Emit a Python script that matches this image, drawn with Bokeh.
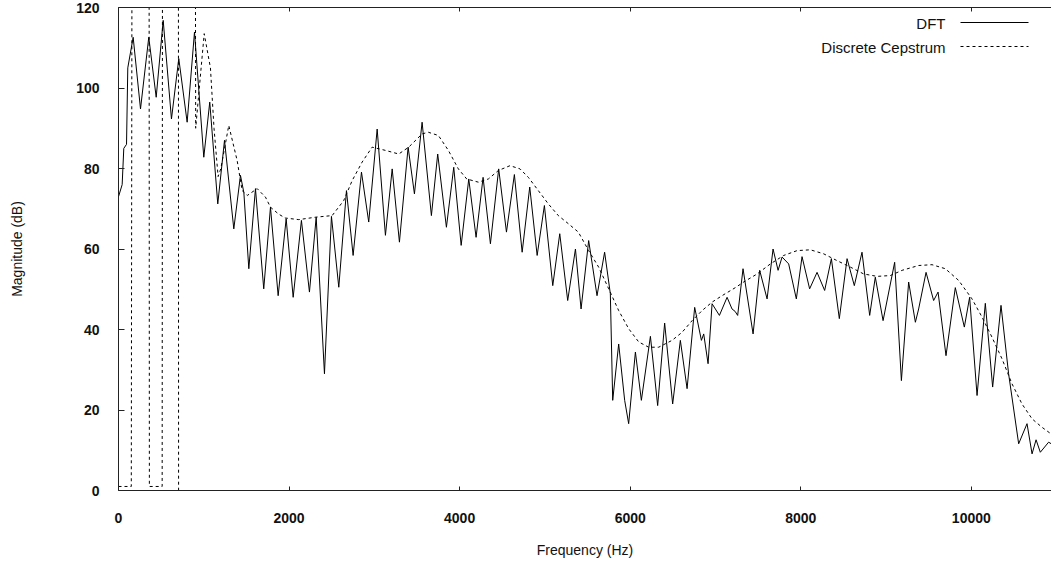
from bokeh.plotting import figure
from bokeh.models import (Range1d, LinearAxis, SingleIntervalTicker, Label, Arrow)
from bokeh.embed import file_html
from bokeh.resources import INLINE

# ---- data ----
dft_freq = [0, 43, 62, 94, 109, 172, 258, 355, 442, 524, 621, 707, 805, 891, 1000, 1070,
            1164, 1243, 1352, 1430, 1470, 1528, 1606, 1703, 1782, 1872, 1966, 2048, 2145,
            2239, 2318, 2415, 2497, 2583, 2673, 2751, 2849, 2934, 3033, 3130, 3209, 3294,
            3396, 3470, 3560, 3669, 3743, 3845, 3931, 4018, 4107, 4193, 4275, 4361, 4458,
            4549, 4642, 4733, 4822, 4909, 4994, 5092, 5174, 5267, 5358, 5424, 5513, 5611,
            5700, 5767, 5795, 5865, 5935, 5982, 6061, 6131, 6237, 6322, 6404, 6498, 6588,
            6667, 6756, 6835, 6862, 6913, 6960, 7046, 7136, 7194, 7230, 7260, 7323, 7441,
            7518, 7605, 7675, 7734, 7781, 7858, 7948, 8015, 8104, 8191, 8280, 8359, 8452,
            8543, 8628, 8718, 8808, 8874, 8965, 9101, 9180, 9265, 9344, 9382, 9469, 9558,
            9610, 9703, 9812, 9918, 9980, 10067, 10164, 10250, 10348, 10437, 10555, 10653,
            10712, 10759, 10809, 10906, 10938]
dft_db = [73, 76, 85, 86, 105, 112.6, 94.8, 112.6, 97.7, 116.8, 92.3, 107.3, 91.5, 113.9,
          82.8, 96.5, 71.2, 87.0, 65.0, 78.3, 74, 55.1, 75.0, 50.1, 70.4, 48.4, 67.5, 48.0,
          67.1, 49.3, 67.9, 29.0, 68.1, 50.5, 74.5, 58.4, 79.1, 66.7, 89.8, 63.4, 79.9,
          61.7, 85.3, 73.7, 91.5, 68.3, 83.6, 65.4, 80.3, 60.9, 77.4, 62.9, 77.8, 61.3,
          79.9, 64.2, 78.5, 59.2, 75.4, 58.4, 70.8, 50.9, 63.8, 47.2, 60.0, 45.1, 62.1,
          48.4, 59.2, 48.9, 22.4, 36.4, 22.4, 16.6, 34.4, 22.4, 38.3, 21.1, 41.6, 21.5,
          37.3, 25.3, 45.5, 37.3, 38.9, 31.5, 46.4, 43.5, 48.0, 45.1, 44.5, 43.5, 55.1,
          38.9, 54.7, 47.6, 60.0, 54.7, 58.0, 56.3, 47.6, 58.1, 50.1, 54.2, 49.7, 57.6,
          42.7, 57.6, 50.9, 59.2, 43.5, 53.0, 42.2, 56.7, 27.3, 51.8, 41.8, 45.1, 54.2,
          47.2, 49.3, 33.5, 50.4, 40.6, 48.0, 23.6, 46.5, 25.7, 46.0, 29.0, 11.6, 16.6,
          9.1, 12.6, 9.5, 12.0, 11.6]

# the cepstrum swings far outside the 0-120 window below ~900 Hz; NaN marks the
# point where the off-scale excursion below the axis returns off-scale above it
nan = float("nan")
cep_freq = [0, 150, 168, 355, 362, 512, 520, 700, 706, nan, 712, 888, 905, 1005, 1078, 1120,
            1168, 1200, 1293, 1391, 1450, 1510, 1626, 1723, 1782, 1876, 1954, 2114, 2309,
            2505, 2640, 2740, 2857, 2974, 3130, 3286, 3403, 3560, 3634, 3751, 3868, 3985,
            4083, 4220, 4337, 4454, 4591, 4708, 4806, 4923, 5040, 5157, 5274, 5392, 5513,
            5630, 5748, 5865, 5982, 6100, 6217, 6334, 6491, 6608, 6726, 6843, 6960, 7077,
            7233, 7331, 7488, 7644, 7800, 7957, 8113, 8269, 8426, 8582, 8738, 8894, 9050,
            9188, 9382, 9539, 9695, 9851, 10008, 10125, 10242, 10360, 10477, 10594, 10712,
            10829, 10926, 10938]
cep_db = [1, 1, 300, 300, 1, 1, 300, 300, -100, nan, 300, 300, 90, 113.5, 105, 90, 78, 80,
          90.7, 82, 74.5, 73.3, 75, 72.9, 70.4, 68.7, 67.7, 67.3, 67.9, 68.3, 72, 77, 81.6,
          85.3, 84.5, 83.6, 85.3, 88.6, 89, 88.2, 84.5, 79.9, 77.4, 76.6, 77.4, 79.5, 80.7,
          79.9, 77.8, 74.5, 71.2, 68.3, 66.3, 64.2, 59.6, 55.5, 50.1, 44.7, 40.2, 36.9,
          35.6, 35.6, 37.3, 39.3, 42.2, 44.7, 46.8, 48.4, 50.4, 51.8, 53.8, 56.3, 58.4,
          59.6, 59.8, 58.8, 57.1, 55.5, 53.8, 53.2, 53.4, 54.7, 55.9, 56.1, 55.1, 52.2,
          47.6, 43.1, 38.1, 32.7, 26.5, 21.5, 17.8, 15.7, 14.2, 14.1]

x_start, x_end = 0, 10940
y_start, y_end = 0, 120
x_tick_step = 2000
y_tick_step = 20
series_names = ["DFT", "Discrete Cepstrum"]
x_label = "Frequency (Hz)"
y_label = "Magnitude (dB)"

FONT = "Liberation Sans"
INK = "#111111"

p = figure(width=1051, height=565, output_backend="svg", toolbar_location=None,
           x_range=Range1d(x_start, x_end), y_range=Range1d(y_start, y_end),
           x_axis_location=None, y_axis_location=None,
           min_border_left=118, min_border_right=0, min_border_top=7, min_border_bottom=75)
p.outline_line_color = None
p.xgrid.visible = False
p.ygrid.visible = False
p.background_fill_color = "white"
p.border_fill_color = "white"

def style(ax, tick_in):
    ax.axis_line_color = "#222222"
    ax.axis_line_width = 1
    ax.major_tick_line_color = "#222222"
    ax.major_tick_in = tick_in
    ax.major_tick_out = 0
    ax.minor_tick_line_color = None
    ax.major_label_text_font = FONT
    ax.major_label_text_font_size = "14px"
    ax.major_label_text_font_style = "bold"
    ax.major_label_text_color = INK
    ax.axis_label_text_font = FONT
    ax.axis_label_text_font_size = "14px"
    ax.axis_label_text_font_style = "normal"
    ax.axis_label_text_color = INK

xb = LinearAxis(ticker=SingleIntervalTicker(interval=x_tick_step), axis_label=x_label)
style(xb, 4)
xb.major_label_standoff = 18
xb.axis_label_standoff = 16
p.add_layout(xb, "below")

# top border with mirrored ticks, no labels
xt = LinearAxis(ticker=SingleIntervalTicker(interval=x_tick_step))
style(xt, 4)
xt.major_label_text_font_size = "0px"
xt.major_label_text_color = None
xt.major_label_standoff = 0
p.add_layout(xt, "above")

yl = LinearAxis(ticker=SingleIntervalTicker(interval=y_tick_step), axis_label=y_label)
style(yl, 6)
yl.major_label_standoff = 15
yl.axis_label_standoff = 48
p.add_layout(yl, "left")

p.line(dft_freq, dft_db, line_color="black", line_width=1)
p.line(cep_freq, cep_db, line_color="black", line_width=1, line_dash="3 3")

# gnuplot-style key: text on the left, sample line on the right (screen units)
for i, (name, dash) in enumerate(zip(series_names, ["solid", "3 3"])):
    ys = 468 - i * 24
    p.add_layout(Label(x=827, y=ys - 1, x_units="screen", y_units="screen", text=name,
                       text_align="right", text_baseline="middle", text_font=FONT,
                       text_font_size="15px", text_color=INK))
    p.add_layout(Arrow(end=None, x_start=842, y_start=ys, x_end=910, y_end=ys,
                       start_units="screen", end_units="screen",
                       line_color="black", line_width=1, line_dash=dash))

open("out.html", "w").write(file_html(p, INLINE))
